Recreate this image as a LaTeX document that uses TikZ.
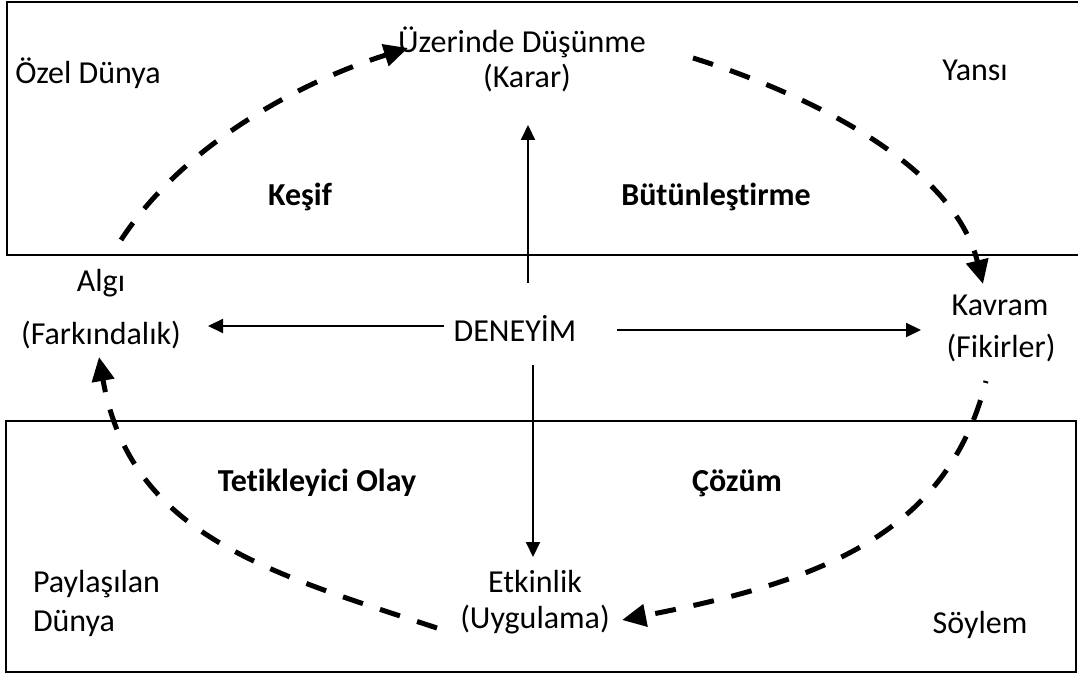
\documentclass[tikz,border=0pt]{standalone}
\usepackage{fontspec}
\setmainfont{Carlito}[Ligatures=NoCommon]
\usetikzlibrary{arrows.meta}

\begin{document}
\begin{tikzpicture}[x=1pt,y=1pt,line width=2pt,>={Triangle[length=15pt,width=14pt]},
  lbl/.style={inner sep=0pt,font=\fontsize{32}{39}\selectfont},
  hd/.style={inner sep=0pt,font=\fontsize{32}{39}\selectfont\bfseries},
  cyc/.style={line width=5pt,dash pattern=on 21pt off 18pt,-{Triangle[length=24pt,width=22pt]}}]
\useasboundingbox (0,0) rectangle (1078,675);
% the two worlds
\draw (7,673) rectangle (1090,420);
\draw (6,254) rectangle (1076,3);
\node[lbl] (ozel) at (88,602) {Özel Dünya};
\node[lbl] (yansi) at (975,605) {Yansı};
\node[lbl,align=left,anchor=west] (paylas) at (32,72) {Paylaşılan\\Dünya};
\node[lbl] (soylem) at (980,50) {Söylem};
% phases
\node[hd] (kesif) at (300,478) {Keşif};
\node[hd] (butun) at (716,478) {Bütünleştirme};
\node[hd] (tetik) at (317,192) {Tetikleyici Olay};
\node[hd] (cozum) at (737,192) {Çözüm};
% cycle
\node[lbl] (uzer) at (522,633) {Üzerinde Düşünme};
\node[lbl] (karar) at (527,597) {(Karar)};
\node[lbl] (algi) at (101,392) {Algı};
\node[lbl] (fark) at (101,340) {(Farkındalık)};
\node[lbl] (deney) at (515,347) {DENEYİM};
\node[lbl] (kavram) at (1000,370) {Kavram};
\node[lbl] (fikir) at (1001,327) {(Fikirler)};
\node[lbl] (etkin) at (535,93) {Etkinlik};
\node[lbl] (uygul) at (535,55) {(Uygulama)};
\draw[->] ([shift={(13,45)}]deney.center) -- ([shift={(1,-47)}]karar.center);
\draw[->] ([shift={(18,-37)}]deney.center) -- ([shift={(-2,25)}]etkin.center);
\draw[->] ([shift={(-71,2)}]deney.center) -- ([shift={(107,9)}]fark.center);
\draw[->] ([shift={(102,-2)}]deney.center) -- ([shift={(-80,18)}]fikir.center);
\draw[cyc] ([shift={(20,43)}]algi.center) .. controls (181,527) and (294,591) .. ([shift={(-114,-6)}]uzer.center);
\draw[cyc] ([shift={(171,-16)}]uzer.center) .. controls (817,578) and (954,507) .. ([shift={(-17,21)}]kavram.center);
\draw[cyc,dash phase=19pt] ([shift={(-15,-33)}]fikir.center) .. controls (947,139) and (818,93) .. ([shift={(87,0)}]uygul.center);
\draw[cyc] ([shift={(-98,-8)}]uygul.center) .. controls (266,103) and (130,141) .. ([shift={(-2,-22)}]fark.center);
\end{tikzpicture}
\end{document}
